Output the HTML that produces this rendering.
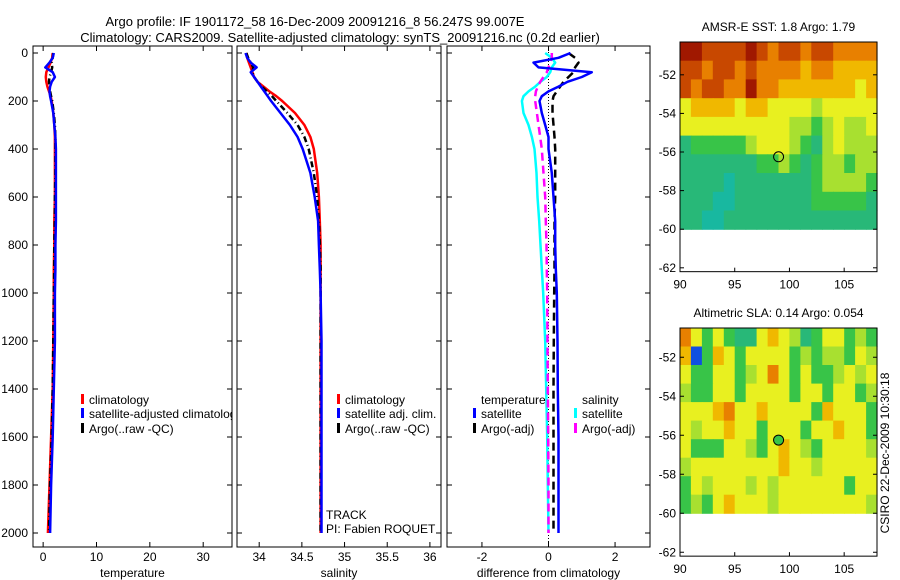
<!DOCTYPE html>
<html><head><meta charset="utf-8"><style>
html,body{margin:0;padding:0;background:#fff;}
svg{display:block;font-family:"Liberation Sans",sans-serif;}
text{font-size:12px;fill:#000;}
</style></head><body>
<svg id="fig" width="900" height="580" viewBox="0 0 900 580" xmlns="http://www.w3.org/2000/svg">
<text x="315" y="26" text-anchor="middle" style="font-size:13px">Argo profile: IF 1901172_58 16-Dec-2009 20091216_8 56.247S 99.007E</text>
<text x="340" y="42" text-anchor="middle" style="font-size:13px">Climatology: CARS2009. Satellite-adjusted climatology: synTS_20091216.nc (0.2d earlier)</text>
<g id="plots"></g>
</svg>
<script>
const depths=[0,20,40,60,80,100,120,140,160,180,200,250,300,350,400,500,600,700,800,900,1000,1200,1400,1600,1800,2000];
const tempClim=[1.8,1.7,1.4,1.0,0.6,0.5,0.6,0.8,1.1,1.4,1.6,1.9,2.1,2.2,2.2,2.2,2.2,2.1,2.1,2.0,2.0,1.9,1.8,1.5,1.2,0.9];
const tempSat=[2.0,1.8,1.2,0.4,1.8,2.2,1.6,1.3,1.2,1.3,1.5,1.9,2.1,2.3,2.4,2.4,2.4,2.4,2.3,2.3,2.2,2.2,2.0,1.8,1.5,1.3];
const tempArgo=[1.9,1.8,1.6,1.7,1.5,1.2,1.1,1.2,1.3,1.5,1.7,2.0,2.2,2.3,2.3,2.3,2.2,2.2,2.1,2.1,2.0,1.9,1.8,1.6,1.3,1.1];
const salClim=[33.85,33.86,33.88,33.9,33.92,33.94,33.98,34.05,34.12,34.2,34.27,34.42,34.53,34.6,34.64,34.68,34.7,34.71,34.72,34.72,34.72,34.72,34.72,34.72,34.72,34.72];
const salSat=[33.84,33.86,33.9,33.97,33.9,33.94,33.98,34.02,34.06,34.1,34.14,34.25,34.36,34.45,34.51,34.6,34.65,34.69,34.7,34.71,34.72,34.73,34.73,34.73,34.73,34.73];
const salArgo=[33.85,33.87,33.9,33.93,33.92,33.94,33.98,34.03,34.09,34.15,34.2,34.33,34.45,34.53,34.58,34.64,34.68,34.7,34.71,34.72,34.72,34.72,34.72,34.72,34.72,34.72];
const dTempSat=[0.66,0.3,-0.45,-0.3,1.3,1.0,0.57,0.3,0.0,-0.2,-0.27,-0.2,-0.1,0.0,0.0,0.1,0.15,0.2,0.2,0.22,0.25,0.27,0.28,0.3,0.3,0.3];
const dTempArgo=[0.6,0.8,0.9,0.8,0.75,0.6,0.45,0.35,0.25,0.15,0.12,0.12,0.15,0.18,0.2,0.2,0.2,0.18,0.18,0.18,0.17,0.16,0.15,0.15,0.15,0.15];
const dSalSat=[-0.1,0.1,0.2,0.1,0.05,-0.05,-0.24,-0.4,-0.6,-0.75,-0.8,-0.75,-0.6,-0.5,-0.42,-0.36,-0.33,-0.28,-0.24,-0.2,-0.16,-0.1,-0.07,-0.04,-0.02,0.0];
const dSalArgo=[0.1,0.1,0.05,0.0,-0.05,-0.15,-0.25,-0.32,-0.38,-0.4,-0.4,-0.35,-0.3,-0.25,-0.2,-0.15,-0.1,-0.08,-0.06,-0.05,-0.04,-0.03,-0.02,-0.01,0,0];
const depthTicks=[0,200,400,600,800,1000,1200,1400,1600,1800,2000];
const tempTicks=[0,10,20,30];
const salTicks=[34,34.5,35,35.5,36];
const diffTicks=[-2,0,2];
const lonTicks=[90,95,100,105];
const latTicks=[-52,-54,-56,-58,-60,-62];
const sstGrid=[
[9,9,8,8,8,8,9,8,7,8,8,7,8,8,7,7,7,7],
[8,8,7,8,8,7,8,7,7,7,7,6,7,7,6,6,6,6],
[8,7,8,8,7,7,9,7,7,6,6,6,6,6,6,6,5,6],
[5,6,6,6,6,5,6,6,5,5,5,5,4,5,5,5,5,5],
[5,5,5,5,5,5,5,5,5,5,4,4,3,4,5,4,4,5],
[2,3,3,3,3,3,4,5,5,5,4,3,2,4,5,4,4,4],
[2,2,2,2,2,2,2,3,3,4,3,2,3,4,4,3,4,4],
[2,2,2,2,1,2,2,2,2,2,2,2,3,4,4,4,4,3],
[2,2,2,1,1,2,2,2,2,2,2,2,3,3,3,3,3,2],
[2,2,1,1,2,2,2,2,2,2,2,2,2,2,2,2,2,2]];
const slaGrid=[
[7,5,3,5,3,2,2,5,6,5,4,2,3,5,5,3,4,3],
[6,0,3,6,5,3,5,5,5,5,3,4,3,4,4,3,5,4],
[5,3,3,5,5,3,4,5,7,5,3,5,3,3,4,5,4,5],
[4,3,3,5,5,3,5,5,5,5,3,5,5,3,5,5,3,4],
[5,5,5,6,7,5,5,6,5,5,5,5,3,6,5,5,5,3],
[5,4,5,5,6,5,5,3,5,5,5,3,5,5,6,5,5,3],
[5,3,3,3,5,5,4,3,5,6,5,4,3,5,5,5,5,4],
[4,5,5,5,5,5,5,5,5,6,5,5,4,5,5,5,5,5],
[3,5,4,5,5,5,4,5,4,5,5,5,5,5,5,3,5,5],
[3,4,3,5,6,5,5,5,4,5,5,5,5,5,5,5,5,4]];
const argoLon=99.007, argoLat=-56.247;

const NS="http://www.w3.org/2000/svg";
const root=document.getElementById('plots');
function el(tag,attrs,parent){const e=document.createElementNS(NS,tag);for(const k in attrs)e.setAttribute(k,attrs[k]);(parent||root).appendChild(e);return e;}
function txt(x,y,s,anchor,parent,extra){const t=el('text',Object.assign({x:x,y:y,'text-anchor':anchor||'start'},extra||{}),parent);t.textContent=s;return t;}
const yD=d=>53+d*0.24;
const TOP=46,BOT=547;

function panel(name,x0,x1,xmin,xmax,ticks,label,showY){
  const g=el('g',{});
  
  
  const sx=v=>x0+(v-xmin)/(xmax-xmin)*(x1-x0);
  const clipId='clip-'+name;
  const cp=el('clipPath',{id:clipId},g);el('rect',{x:x0,y:TOP,width:x1-x0,height:BOT-TOP},cp);
  const box=el('rect',{x:x0,y:TOP,width:x1-x0,height:BOT-TOP,fill:'none',stroke:'#000','stroke-width':1},g);
  
  
  ticks.forEach(v=>{const X=sx(v);
    el('line',{x1:X,x2:X,y1:TOP,y2:TOP+5,stroke:'#000'},g);el('line',{x1:X,x2:X,y1:BOT,y2:BOT-5,stroke:'#000'},g);
    const t=txt(X,561,String(v),'middle',g);
    
    });
  depthTicks.forEach(d=>{const Y=yD(d);
    el('line',{x1:x0,x2:x0+5,y1:Y,y2:Y,stroke:'#000'},g);el('line',{x1:x1,x2:x1-5,y1:Y,y2:Y,stroke:'#000'},g);
    if(showY){const t=txt(28,Y+4,String(d),'end',g);
      
      }});
  const xl=txt((x0+x1)/2,577,label,'middle',g);
  
  
  const inner=el('g',{'clip-path':'url(#'+clipId+')'},g);
  return {g:g,inner:inner,sx:sx};
}
function series(p,vals,color,w,dash,name){
  const pts=vals.map((v,i)=>p.sx(v).toFixed(1)+','+yD(depths[i]).toFixed(1)).join(' ');
  const l=el('polyline',{points:pts,fill:'none',stroke:color,'stroke-width':w,'stroke-dasharray':dash||'none','stroke-linejoin':'round'},p.inner);
  
  
}
function legendItem(p,x,y,color,label,name){
  const g=el('g',{},p.inner);
  
  
  el('rect',{x:x,y:y-10,width:3,height:10,fill:color},g);
  txt(x+8,y,label,'start',g);
}

// Temperature
const p1=panel('temperature-panel',33,232,-1.9,35.4,tempTicks,'temperature',true);
series(p1,tempClim,'#ff0000',2.5,null,'temp-climatology-line');
series(p1,tempArgo,'#000000',2.5,'6,3,1,3','temp-argo-line');
series(p1,tempSat,'#0000ff',2.5,null,'temp-satellite-line');
legendItem(p1,81,404,'#ff0000','climatology','legend-climatology');
legendItem(p1,81,418,'#0000ff','satellite-adjusted climatology','legend-satellite-adjusted');
legendItem(p1,81,433,'#000000','Argo(..raw -QC)','legend-argo');

// Salinity
const p2=panel('salinity-panel',237,441,33.74,36.13,salTicks,'salinity',false);
series(p2,salClim,'#ff0000',2.5,null,'sal-climatology-line');
series(p2,salArgo,'#000000',2.5,'6,3,1,3','sal-argo-line');
series(p2,salSat,'#0000ff',2.5,null,'sal-satellite-line');
legendItem(p2,337,404,'#ff0000','climatology','legend-sal-climatology');
legendItem(p2,337,418,'#0000ff','satellite adj. clim.','legend-sal-satellite');
legendItem(p2,337,433,'#000000','Argo(..raw -QC)','legend-sal-argo');
const tr=txt(326,519,'TRACK','start',p2.g);


const pi=txt(326,533,'PI: Fabien ROQUET','start',p2.g);



// Difference
const p3=panel('difference-panel',447,650,-3.05,3.05,diffTicks,'difference from climatology',false);
el('line',{x1:p3.sx(0),x2:p3.sx(0),y1:TOP,y2:BOT,stroke:'#000','stroke-width':1,'stroke-dasharray':'1,2'},p3.inner);
series(p3,dSalSat,'#00ffff',2.5,null,'diff-sal-satellite-line');
series(p3,dSalArgo,'#ff00ff',2.5,'8,5','diff-sal-argo-line');
series(p3,dTempArgo,'#000000',2.5,'8,5','diff-temp-argo-line');
series(p3,dTempSat,'#0000ff',2.5,null,'diff-temp-satellite-line');
const lt=txt(481,404,'temperature','start',p3.inner);


const ls=txt(582,404,'salinity','start',p3.inner);


legendItem(p3,473,418,'#0000ff','satellite','legend-temp-satellite');
legendItem(p3,473,433,'#000000','Argo(-adj)','legend-temp-argo');
legendItem(p3,574,418,'#00ffff','satellite','legend-sal-satellite-diff');
legendItem(p3,574,433,'#ff00ff','Argo(-adj)','legend-sal-argo-diff');

// Maps
const cmap=['#1050e0','#18b8a0','#28b878','#38c448','#a8e030','#e8f020','#f0b800','#e88000','#c84800','#a01800'];
function map(name,title,grid,top,latTop,pxDeg,markerFill){
  const L=680,R=877,lonMin=90,lonMax=108;
  const sx=v=>L+(v-lonMin)/(lonMax-lonMin)*(R-L);
  const sy=v=>top+(latTop-v)*pxDeg;
  const bottom=sy(-62.2);
  const g=el('g',{});
  
  
  const tt=txt((L+R)/2,top-11,title,'middle',g);
  
  
  const rows=grid.length;
  const latStep=(latTop-(-60))/rows;
  grid.forEach((row,i)=>row.forEach((v,j)=>{
    const x=sx(lonMin+j),y=sy(latTop-i*latStep);
    const c=el('rect',{x:x.toFixed(1),y:y.toFixed(1),width:(sx(1)-sx(0)+0.6).toFixed(1),height:(latStep*pxDeg+0.6).toFixed(1),fill:cmap[v]},g);
    
    
  }));
  el('rect',{x:L,y:top,width:R-L,height:bottom-top,fill:'none',stroke:'#000'},g);
  latTicks.forEach(v=>{const Y=sy(v);el('line',{x1:L,x2:L+4,y1:Y,y2:Y,stroke:'#000'},g);el('line',{x1:R,x2:R-4,y1:Y,y2:Y,stroke:'#000'},g);
    const t=txt(L-4,Y+4,String(v),'end',g);
    
    });
  lonTicks.forEach(v=>{const X=sx(v);el('line',{x1:X,x2:X,y1:bottom,y2:bottom-4,stroke:'#000'},g);
    const t=txt(X,bottom+17,String(v),'middle',g);
    
    });
  const m=el('circle',{cx:sx(argoLon),cy:sy(argoLat),r:5,fill:markerFill,stroke:'#000','stroke-width':1},g);
  
  
}
map('sst-map','AMSR-E SST: 1.8 Argo: 1.79',sstGrid,42,-50.3,19.3,'none');
map('sla-map','Altimetric SLA: 0.14 Argo: 0.054',slaGrid,328,-50.5,19.5,'#38c448');
const cs=txt(0,0,'CSIRO 22-Dec-2009 10:30:18','middle',root,{transform:'translate(889,453) rotate(-90)'});


</script>
</body></html>
